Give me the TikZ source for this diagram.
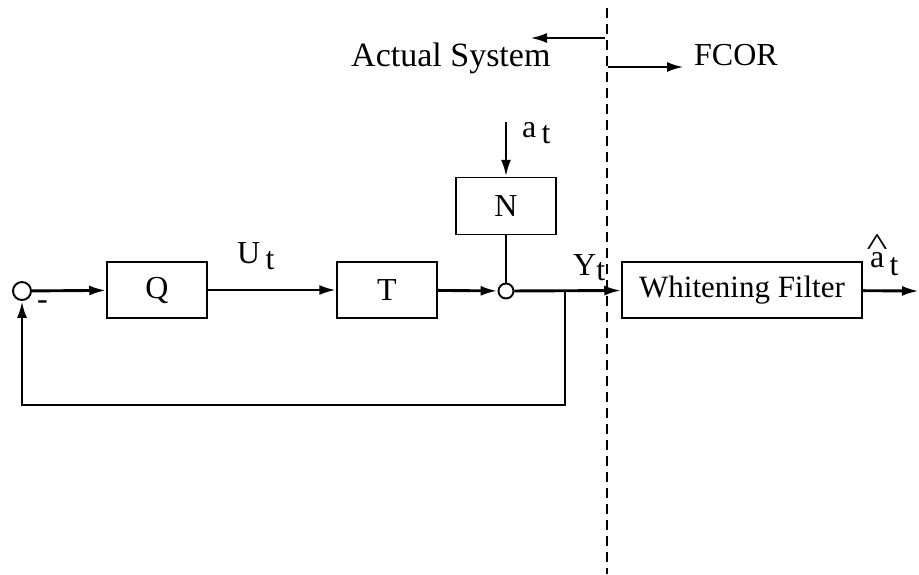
\documentclass[tikz,border=0pt]{standalone}
\usepackage{fontspec}
\setmainfont{Liberation Serif}
\usetikzlibrary{arrows.meta}
\begin{document}
\begin{tikzpicture}[x=1pt,y=-1pt,
  every node/.style={font=\fontsize{32}{36}\selectfont},
  blk/.style={draw,line width=1.5pt,minimum height=56pt,inner sep=0pt},
  junc/.style={draw,circle,line width=1.9pt,inner sep=0pt,fill=white},
  wire/.style={line width=2.9pt},
  arr/.style={wire,-{Latex[length=17pt,width=10pt]}},
  lbl/.style={anchor=base west,inner sep=0pt}]
\useasboundingbox (0,0) rectangle (919,574);
% blocks
\node[junc,minimum size=18pt] (s1) at (22,291) {};
\node[blk,minimum width=100pt] (Q) at (157,290) {Q};
\node[blk,minimum width=100pt] (T) at (387,290) {T};
\node[blk,minimum width=100pt,minimum height=57pt] (N) at (506,206) {N};
\node[junc,minimum size=15pt] (s2) at (506,291) {};
\node[blk,minimum width=240pt] (W) at (742,290) {\fontsize{31}{36}\selectfont Whitening Filter};
\coordinate (ain) at (506,122);
\coordinate (out) at (919,291);
\coordinate (fb) at (565,291);
\coordinate (fbb) at (565,405);
\coordinate (dtop) at (607,8);
\coordinate (dbot) at (607,574);
\coordinate (la) at (605,38);
\coordinate (lb) at (530,38);
\coordinate (ra) at (608,67);
\coordinate (rb) at (684,67);
% connectors
\draw[arr] (s1) -- (Q);
\draw[arr] (Q) -- (T);
\draw[arr] (T) -- (s2);
\draw[arr] (s2) -- (W);
\draw[arr] (W) -- (out);
\draw[wire] (N) -- (s2);
\draw[arr] (ain) -- (N);
\draw[arr] (fb) -- (fbb) -| (s1);
\draw[line width=2.8pt,dash pattern=on 10pt off 6pt] (dtop) -- (dbot);
\draw[arr] (la) -- (lb);
\draw[arr] (ra) -- (rb);
% labels
\node[lbl,font=\fontsize{34}{38}\selectfont] (tas) at (351,66) {Actual System};
\node[lbl] (tfc) at (694,65) {FCOR};
\node[lbl] (tu) at (237,263) {U\,\raisebox{-6pt}{t}};
\node[lbl] (ta) at (522,137) {a\,\raisebox{-6pt}{t}};
\node[lbl] (ty) at (573,275) {Y\raisebox{-5pt}{t}};
\node[lbl] (th) at (870,267) {\makebox[0pt][l]{\makebox[14pt][c]{\raisebox{12pt}{\scalebox{1.4}[1]{\char"5E}}}}a\,\raisebox{-8pt}{t}};
\node[lbl] (tm) at (37,309) {-};
\end{tikzpicture}
\end{document}
